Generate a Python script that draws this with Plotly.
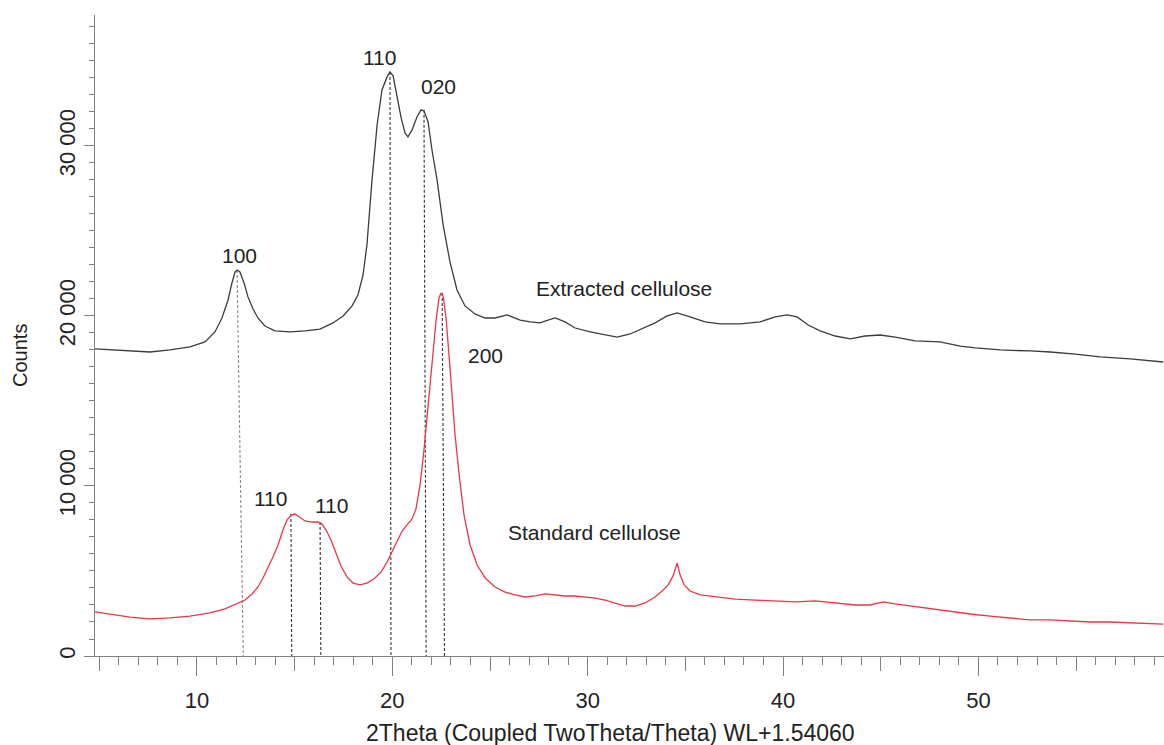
import plotly.graph_objects as go

# ---------------- data ----------------
ext_x = [4.78, 5.55, 6.57, 7.59, 8.62, 9.64, 10.41, 10.92, 11.28, 11.59, 11.79, 11.95, 12.05, 12.20,
         12.41, 12.61, 12.87, 13.12, 13.48, 13.99, 14.76, 15.53, 16.30, 16.96, 17.48, 17.94, 18.24,
         18.50, 18.70, 18.96, 19.22, 19.47, 19.73, 19.88, 20.04, 20.24, 20.45, 20.65, 20.80, 21.01,
         21.26, 21.47, 21.62, 21.83, 22.03, 22.29, 22.60, 22.95, 23.31, 23.72, 24.23, 24.75, 25.26,
         25.87, 26.54, 27.05, 27.56, 27.97, 28.33, 28.84, 29.36, 30.12, 30.89, 31.51, 32.17, 32.68,
         33.45, 34.07, 34.58, 35.24, 36.01, 36.78, 37.80, 38.83, 39.60, 40.21, 40.72, 41.29, 41.90,
         42.67, 43.44, 44.20, 44.97, 45.74, 46.76, 48.04, 49.07, 49.84, 51.12, 52.65, 53.68, 54.96,
         56.24, 57.77, 59.46]
ext_y = [18060, 18000, 17940, 17880, 18000, 18180, 18470, 19060, 19880, 20940, 21940, 22590, 22700,
         22590, 21940, 21120, 20410, 19880, 19410, 19120, 19060, 19120, 19230, 19590, 20000, 20590,
         21230, 22410, 24180, 28000, 31230, 33290, 34060, 34350, 34120, 33000, 31650, 30760, 30530,
         30940, 31700, 32120, 32060, 31410, 29760, 28000, 25350, 23180, 21530, 20590, 20120, 19880,
         19880, 20060, 19760, 19650, 19590, 19760, 19880, 19650, 19290, 19060, 18880, 18760, 18940,
         19180, 19590, 20000, 20180, 19940, 19650, 19530, 19530, 19650, 19940, 20060, 19940, 19470,
         19120, 18820, 18650, 18820, 18880, 18760, 18530, 18470, 18230, 18120, 18000, 17940, 17880,
         17760, 17590, 17470, 17290]

std_x = [4.78, 5.55, 6.57, 7.59, 8.62, 9.64, 10.67, 11.43, 12.05, 12.46, 12.82, 13.12, 13.38, 13.64,
         13.89, 14.15, 14.40, 14.61, 14.81, 15.02, 15.22, 15.53, 15.89, 16.20, 16.40, 16.61, 16.86,
         17.12, 17.37, 17.68, 17.99, 18.35, 18.70, 19.06, 19.42, 19.73, 19.98, 20.24, 20.50, 20.75,
         21.01, 21.21, 21.42, 21.62, 21.83, 22.03, 22.24, 22.39, 22.49, 22.60, 22.75, 22.90, 23.06,
         23.21, 23.42, 23.67, 23.98, 24.34, 24.75, 25.26, 25.77, 26.28, 26.79, 27.31, 27.82, 28.33,
         28.84, 29.36, 29.87, 30.38, 30.89, 31.40, 31.92, 32.43, 32.94, 33.45, 33.81, 34.12, 34.37,
         34.58, 34.73, 34.94, 35.24, 35.76, 36.52, 37.55, 38.57, 39.60, 40.62, 41.64, 42.67, 43.69,
         44.46, 45.13, 45.74, 46.51, 47.53, 48.56, 49.58, 50.60, 51.63, 52.65, 53.68, 54.70, 55.72,
         56.75, 57.77, 58.80, 59.46]
std_y = [2590, 2470, 2290, 2180, 2240, 2350, 2530, 2770, 3060, 3290, 3650, 4060, 4590, 5180,
         5820, 6530, 7410, 8000, 8290, 8350, 8180, 7940, 7880, 7880, 7760, 7410, 6820,
         6060, 5290, 4650, 4290, 4180, 4290, 4530, 4940, 5530, 6120, 6760, 7350, 7710,
         8060, 8650, 10060, 12120, 14760, 17410, 19760, 21060, 21350, 21180, 19880, 17710, 15350,
         13000, 10650, 8290, 6530, 5350, 4590, 4060, 3760, 3590, 3470, 3530, 3650, 3590,
         3530, 3530, 3470, 3410, 3290, 3120, 2940, 2940, 3120, 3470, 3820, 4180, 4710,
         5470, 4760, 4180, 3820, 3590, 3470, 3350, 3290, 3240, 3180, 3240, 3120, 3000,
         3000, 3180, 3060, 2940, 2820, 2650, 2470, 2350, 2240, 2120, 2120, 2060, 2000,
         2000, 1940, 1880, 1880]

# reflection markers (dashed guide lines): peak top -> axis
peak_top_x = [12.05, 19.88, 21.62, 14.81, 16.30, 22.55]
peak_top_y = [22700, 34350, 32120, 8350, 7880, 21350]
peak_base_x = [12.37, 19.93, 21.73, 14.85, 16.34, 22.67]
peak_colors = ["#8a8a8a", "#333333", "#333333", "#333333", "#333333", "#333333"]

peak_labels = ["100", "110", "020", "110", "110", "200"]
peak_label_x = [12.20, 19.32, 22.34, 13.74, 16.91, 24.75]
peak_label_y = [23530, 35230, 33470, 9240, 8880, 17700]

series_names = ["Extracted cellulose", "Standard cellulose"]
series_label_x = [27.26, 25.82]
series_label_y = [21590, 7240]

x_ticks = [10, 20, 30, 40, 50]
x_mid_ticks = [5, 15, 25, 35, 45, 55]
y_ticks = [0, 10000, 20000, 30000]
y_tick_text = ["0", "10 000", "20 000", "30 000"]

x_range = [4.78, 59.5]
y_range = [0, 37700]

FONT = "Arial, Liberation Sans, Helvetica, sans-serif"
FS = 21
TFS = 22
AX = "#808080"
TXT = "#222222"

fig = go.Figure()

for tx, ty, bx, c in zip(peak_top_x, peak_top_y, peak_base_x, peak_colors):
    fig.add_trace(go.Scatter(x=[tx, bx], y=[ty, 0], mode="lines",
                             line=dict(color=c, width=1.1, dash="3px,2px"),
                             hoverinfo="skip", showlegend=False))

fig.add_trace(go.Scatter(x=ext_x, y=ext_y, mode="lines", name=series_names[0],
                         line=dict(color="#3c3c3c", width=1.3), showlegend=False))
fig.add_trace(go.Scatter(x=std_x, y=std_y, mode="lines", name=series_names[1],
                         line=dict(color="#e8364b", width=1.3), showlegend=False))

# invisible trace to activate the overlay axis carrying the 5-step ticks
fig.add_trace(go.Scatter(x=[None], y=[None], xaxis="x2", showlegend=False, hoverinfo="skip"))

annotations = []
for t, x, y in zip(peak_labels, peak_label_x, peak_label_y):
    annotations.append(dict(x=x, y=y, text=t, showarrow=False, xanchor="center", yanchor="middle",
                            font=dict(family=FONT, size=FS, color=TXT)))
for t, x, y in zip(series_names, series_label_x, series_label_y):
    annotations.append(dict(x=x, y=y, text=t, showarrow=False, xanchor="left", yanchor="middle",
                            font=dict(family=FONT, size=FS, color=TXT)))
annotations.append(dict(xref="paper", yref="paper", x=0.4818, y=-0.120,
                        text="2Theta (Coupled TwoTheta/Theta) WL+1.54060", showarrow=False,
                        xanchor="center", yanchor="middle",
                        font=dict(family=FONT, size=23, color=TXT)))
annotations.append(dict(xref="paper", yref="paper", x=-0.0702, y=0.4696, text="Counts",
                        textangle=-90, showarrow=False, xanchor="center", yanchor="middle",
                        font=dict(family=FONT, size=20, color=TXT)))

fig.update_layout(
    width=1164, height=745,
    margin=dict(l=95, r=0, t=15, b=89),
    paper_bgcolor="white", plot_bgcolor="white",
    font=dict(family=FONT, size=FS, color=TXT),
    annotations=annotations,
    xaxis=dict(range=x_range, showgrid=False, zeroline=False, showline=True, linecolor=AX,
               linewidth=1.2, ticks="outside", tickvals=x_ticks, ticklen=19, tickcolor=AX,
               tickwidth=1, ticklabelstandoff=5,
               tickfont=dict(family=FONT, size=TFS, color=TXT),
               minor=dict(dtick=1, tick0=0, ticks="outside", ticklen=8, tickcolor=AX, tickwidth=1)),
    xaxis2=dict(range=x_range, overlaying="x", anchor="y", side="bottom", showgrid=False,
                zeroline=False, showline=False, ticks="outside", tickvals=x_mid_ticks, ticklen=14,
                tickcolor=AX, tickwidth=1, showticklabels=False),
    yaxis=dict(range=y_range, showgrid=False, zeroline=False, showline=True, linecolor=AX,
               linewidth=1.2, ticks="outside", tickvals=y_ticks, ticktext=y_tick_text, ticklen=10,
               tickcolor=AX, tickwidth=1, tickangle=-90,
               tickfont=dict(family=FONT, size=TFS, color=TXT),
               minor=dict(dtick=1000, tick0=0, ticks="outside", ticklen=5, tickcolor=AX, tickwidth=1)),
)

fig.write_html("out.html", config={"displayModeBar": False},
               post_script="document.body.style.margin='0';document.body.style.overflow='hidden';")
